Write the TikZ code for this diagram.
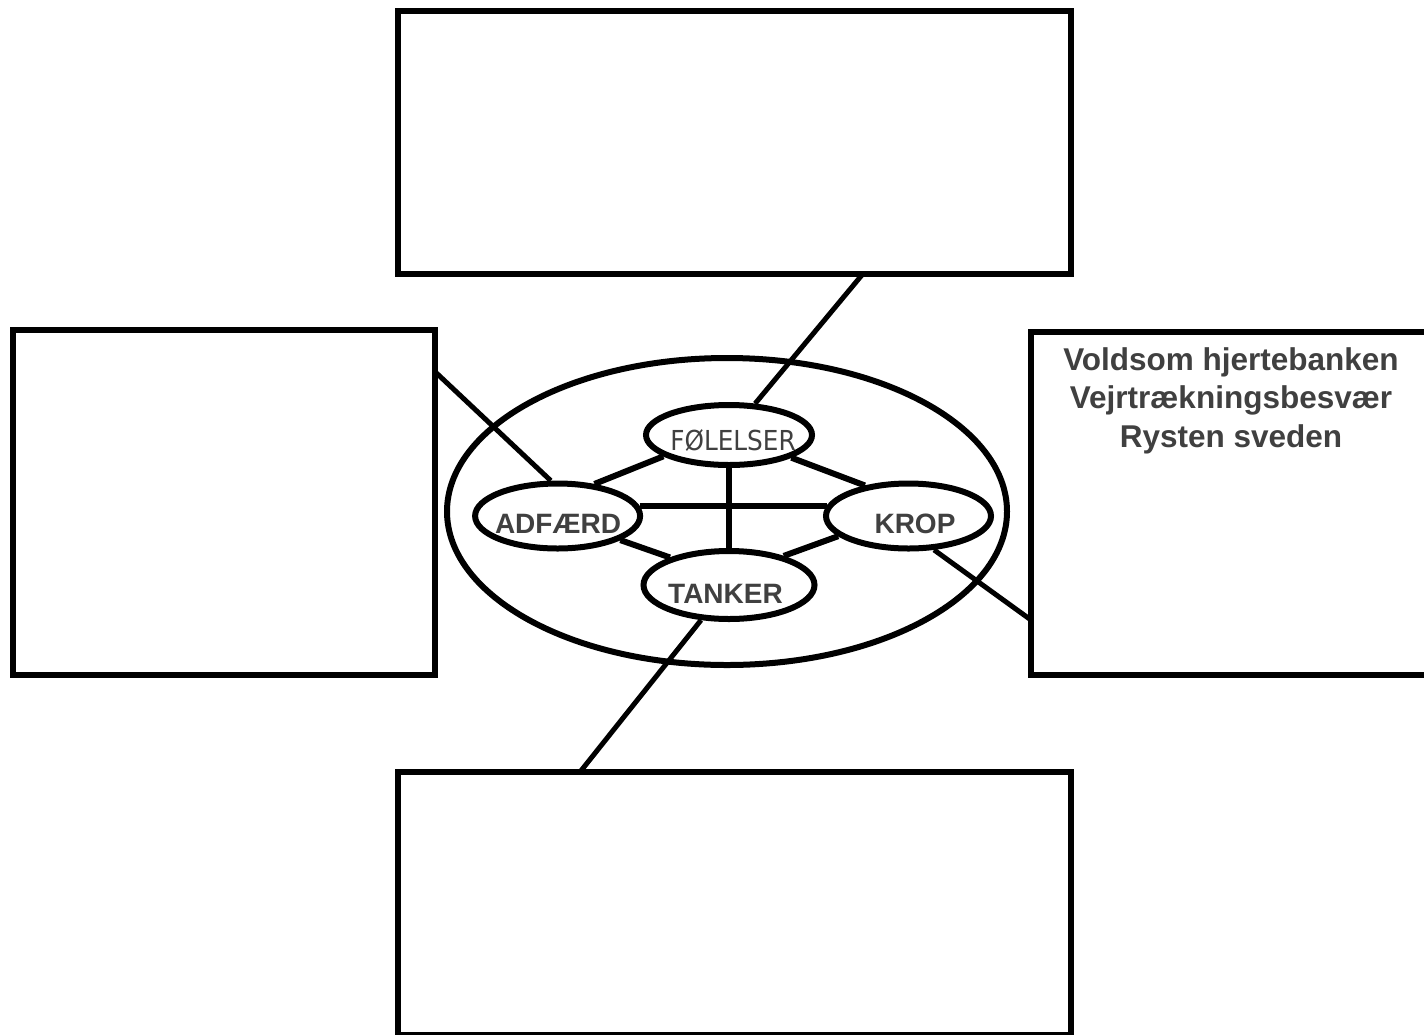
\documentclass[tikz,border=0pt]{standalone}
\usepackage{fontspec}
\setmainfont{Liberation Sans}
\newfontfamily\condfont{DejaVu Sans Condensed}
\usetikzlibrary{shapes.geometric}
\definecolor{ink}{RGB}{64,64,64}
\begin{document}
\begin{tikzpicture}[x=1pt,y=-1pt,
  panel/.style={draw=black, line width=6pt, rectangle, inner sep=0pt, fill=white},
  oval/.style={draw=black, line width=6pt, ellipse, inner sep=0pt, fill=white},
  link/.style={line width=6pt},
  spoke/.style={line width=5pt},
  word/.style={text=ink, inner sep=0pt, anchor=base,
    font=\bfseries\fontsize{28}{34}\selectfont},
  softword/.style={text=ink, inner sep=0pt, anchor=base,
    font=\condfont\fontsize{27.5}{33}\selectfont},
  note/.style={text=ink, inner sep=0pt, anchor=base,
    font=\bfseries\fontsize{31.5}{38.5}\selectfont}]
\useasboundingbox (0,0) rectangle (1424,1034);
\clip (0,0) rectangle (1424,1034);
\fill[white] (0,0) rectangle (1424,1034);

% four surrounding boxes
\node[panel, minimum width=673.5pt, minimum height=262.7pt] (topbox) at (734.25,142.35) {};
\node[panel, minimum width=422pt, minimum height=345.2pt] (leftbox) at (224,502.1) {};
\node[panel, minimum width=397pt, minimum height=343pt] (rightbox) at (1229.5,503) {};
\node[panel, minimum width=673.5pt, minimum height=262.7pt] (bottombox) at (734.25,903.35) {};

% the large ring holding the four parts
\node[oval, minimum width=560pt, minimum height=307pt] (ring) at (727,511.5) {};

% the four parts
\node[oval, minimum width=166pt, minimum height=60pt] (fol) at (729,435) {};
\node[oval, minimum width=165pt, minimum height=65pt] (adf) at (557.6,516) {};
\node[oval, minimum width=165pt, minimum height=65pt] (krop) at (908.5,516) {};
\node[oval, minimum width=171pt, minimum height=68pt] (tan) at (729,585) {};

% links between the parts
\draw[link] (fol.198) -- (adf.41);
\draw[link] (fol.340) -- (krop.145);
\draw[link] (adf.7) -- (krop.173);
\draw[link] (fol) -- (tan);
\draw[link] (adf.339) -- (tan.155);
\draw[link] (krop.196) -- (tan.28);

% links out to the boxes
\coordinate (tfoot) at (863,273.7);
\coordinate (lfoot) at (435,371.7);
\coordinate (rfoot) at (1031,620);
\coordinate (bfoot) at (580,772);
\draw[spoke] (tfoot) -- (fol);
\draw[spoke] (lfoot) -- (adf.101);
\draw[spoke] (rfoot) -- (krop.-53);
\draw[spoke] (bfoot) -- (tan);

% labels
\node[softword] (folT) at (733,450) {FØLELSER};
\node[word] (adfT) at (558,533) {ADFÆRD};
\node[word] (kropT) at (915,533) {KROP};
\node[word] (tanT) at (725.5,603.3) {TANKER};

% body reactions
\node[note] (sym1) at (1231,370) {Voldsom hjertebanken};
\node[note] (sym2) at (1231,408.5) {Vejrtrækningsbesvær};
\node[note] (sym3) at (1231,447) {Rysten sveden};
\end{tikzpicture}
\end{document}
